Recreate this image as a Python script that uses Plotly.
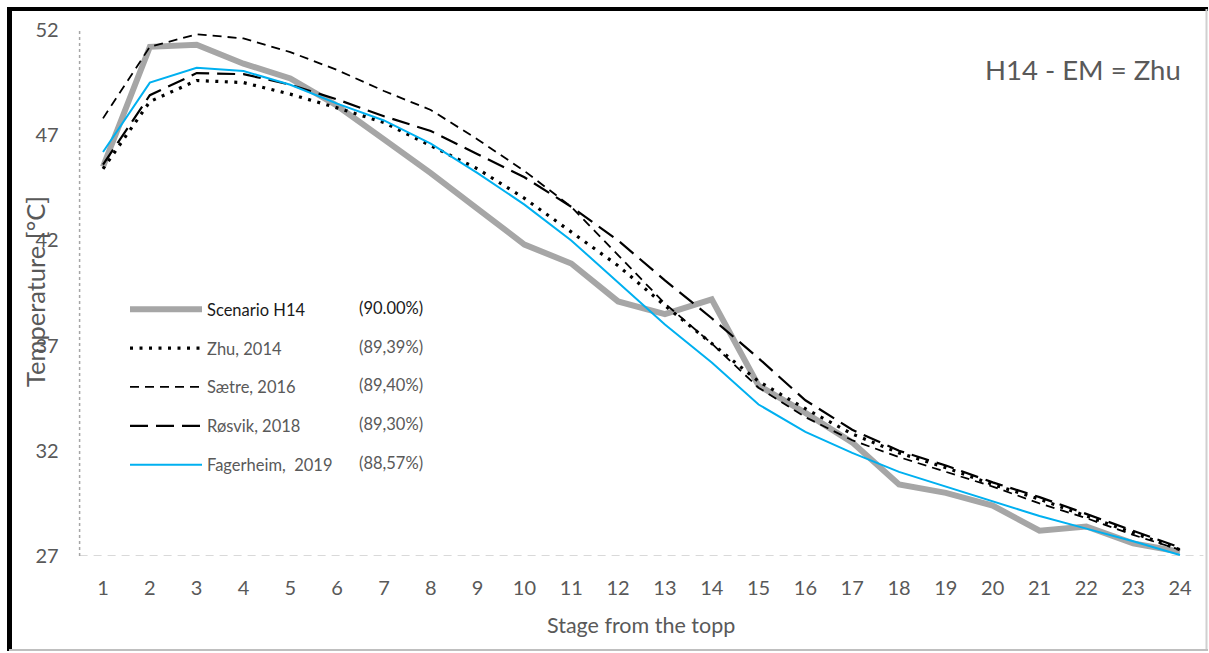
import plotly.graph_objects as go

W, H = 1209, 653

stages = list(range(1, 25))
scenario_h14 = [45.5, 51.2, 51.3, 50.4, 49.7, 48.4, 46.8, 45.2, 43.5, 41.8, 40.9, 39.1,
                38.5, 39.2, 35.1, 33.8, 32.4, 30.4, 30.0, 29.4, 28.2, 28.4, 27.6, 27.2]
zhu_2014 = [45.4, 48.6, 49.6, 49.5, 48.95, 48.3, 47.6, 46.5, 45.4, 44.0, 42.4, 40.8,
            38.9, 37.1, 35.3, 34.0, 32.8, 31.9, 31.2, 30.4, 29.7, 28.9, 28.1, 27.3]
saetre_2016 = [47.8, 51.2, 51.8, 51.6, 50.95, 50.1, 49.1, 48.2, 46.8, 45.3, 43.6, 41.3,
               39.0, 37.1, 35.0, 33.6, 32.5, 31.7, 31.0, 30.3, 29.5, 28.8, 28.0, 27.3]
rosvik_2018 = [45.6, 48.9, 49.95, 49.9, 49.4, 48.7, 47.9, 47.2, 46.1, 45.0, 43.6, 42.0,
               40.1, 38.3, 36.4, 34.4, 33.0, 32.0, 31.3, 30.5, 29.8, 29.0, 28.2, 27.4]
fagerheim_2019 = [46.2, 49.5, 50.2, 50.05, 49.4, 48.5, 47.7, 46.6, 45.2, 43.7, 42.0, 40.0,
                  38.0, 36.2, 34.2, 32.9, 31.9, 31.0, 30.3, 29.6, 28.9, 28.3, 27.7, 27.05]

series_names = ["Scenario H14", "Zhu, 2014", "Sætre, 2016", "Røsvik, 2018", "Fagerheim,\u00a0 2019"]
percent_labels = ["(90.00%)", "(89,39%)", "(89,40%)", "(89,30%)", "(88,57%)"]
y_ticks = [27, 32, 37, 42, 47, 52]
x_title = "Stage from the topp"
y_title = "Temperature [°C]"
chart_label = "H14 - EM = Zhu"

FONT = "Lato, 'Open Sans', sans-serif"
GRAY = "#595959"

def px(x):
    return x / W

def py(y):
    return 1 - y / H

series = [scenario_h14, zhu_2014, saetre_2016, rosvik_2018, fagerheim_2019]
styles = [
    dict(color="#a6a6a6", width=6, dash="solid"),
    dict(color="#000000", width=3.2, dash="3px,6.5px"),
    dict(color="#000000", width=1.8, dash="9px,6px"),
    dict(color="#000000", width=2.2, dash="18px,8px"),
    dict(color="#00b0f0", width=2, dash="solid"),
]

fig = go.Figure()
for i, (name, vals, st) in enumerate(zip(series_names, series, styles)):
    label = name if i > 0 else "<span style='color:#1a1a1a'>" + name + "</span>"
    fig.add_trace(go.Scatter(
        x=stages, y=vals, mode="lines", name=label, legendgroup=f"g{i}",
        line=dict(color=st["color"], width=st["width"], dash=st["dash"]),
    ))

x0d, x1d = px(79.6), px(1203.4)
fig.update_layout(
    width=W, height=H, autosize=False,
    margin=dict(l=0, r=0, t=0, b=0, pad=0, autoexpand=False),
    paper_bgcolor="white", plot_bgcolor="white",
    font=dict(family=FONT, color=GRAY),
    xaxis=dict(domain=[x0d, x1d], range=[0.5, 24.5], tickmode="array", tickvals=stages,
               showgrid=False, zeroline=False, showline=False, automargin=False,
               tickfont=dict(size=20, color=GRAY), ticklabelstandoff=18),
    yaxis=dict(domain=[py(556), py(30)], range=[27, 52], tickmode="array", tickvals=y_ticks,
               showgrid=False, zeroline=False, showline=False, automargin=False,
               tickfont=dict(size=20, color=GRAY), ticklabelstandoff=20),
    showlegend=True,
    legend=dict(x=px(125), y=py(292), xanchor="left", yanchor="top",
                bgcolor="rgba(0,0,0,0)", font=dict(size=16.5, family=FONT, color=GRAY),
                tracegroupgap=14.4, itemwidth=72, traceorder="grouped"),
)

shapes = [
    dict(type="line", xref="paper", yref="y", x0=x0d, x1=x1d, y0=27, y1=27,
         line=dict(color="#d9d9d9", width=2, dash="8px,6px"), layer="below"),
    dict(type="line", xref="paper", yref="y", x0=x0d, x1=x0d, y0=27, y1=52,
         line=dict(color="#a6a6a6", width=1.5, dash="dot"), layer="below"),
    dict(type="line", xref="paper", yref="paper", x0=px(7), x1=px(1208), y0=py(9), y1=py(9),
         line=dict(color="#000000", width=4)),
    dict(type="line", xref="paper", yref="paper", x0=px(9.5), x1=px(9.5), y0=py(7), y1=py(651),
         line=dict(color="#000000", width=5)),
    dict(type="line", xref="paper", yref="paper", x0=px(1206.5), x1=px(1206.5), y0=py(9), y1=py(651),
         line=dict(color="#d0d0d0", width=2)),
    dict(type="line", xref="paper", yref="paper", x0=px(9), x1=px(1208), y0=py(650), y1=py(650),
         line=dict(color="#bfbfbf", width=2)),
]
fig.update_layout(shapes=shapes)

annotations = [
    dict(text=x_title, xref="paper", yref="paper", x=px(641), y=py(625), showarrow=False,
         xanchor="center", yanchor="middle", font=dict(size=21.5, color=GRAY, family=FONT)),
    dict(text=y_title, xref="paper", yref="paper", x=px(35), y=py(292), showarrow=False,
         textangle=-90, xanchor="center", yanchor="middle", font=dict(size=25.5, color=GRAY, family=FONT)),
    dict(text=chart_label, xref="paper", yref="paper", x=px(1183), y=py(70), showarrow=False,
         xanchor="right", yanchor="middle", font=dict(size=27.5, color=GRAY, family=FONT)),
]
row_y = [308, 347, 385, 424, 463]
for i, (lab, ry) in enumerate(zip(percent_labels, row_y)):
    annotations.append(dict(text=lab, xref="paper", yref="paper", x=px(425), y=py(ry), showarrow=False,
                            xanchor="right", yanchor="middle",
                            font=dict(size=16.5, family=FONT, color="#1a1a1a" if i == 0 else GRAY)))
fig.update_layout(annotations=annotations)

fig.write_html("out.html", include_plotlyjs=True, full_html=True,
               config={"displayModeBar": False, "responsive": False},
               post_script="document.body.style.margin='0';document.body.style.overflow='hidden';")
